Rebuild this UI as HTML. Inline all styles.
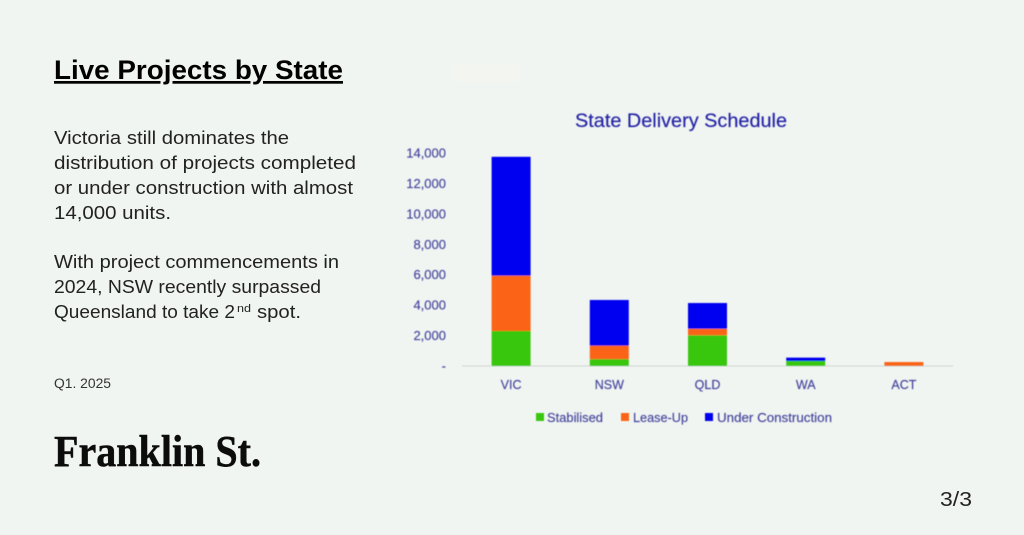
<!DOCTYPE html>
<html lang="en">
<head>
<meta charset="utf-8">
<title>Live Projects by State</title>
<style>
html,body{margin:0;padding:0;background:#f1f5f1;}
body{width:1024px;height:535px;overflow:hidden;position:relative;}
svg{position:absolute;left:0;top:0;display:block;}
.copy{font-family:"Liberation Sans",sans-serif;font-size:18px;fill:#222;}
.chart-text{font-family:"Liberation Sans",sans-serif;fill:#43439c;stroke:#43439c;stroke-width:0.15px;}
</style>
</head>
<body>
<svg id="slide" width="1024" height="535" viewBox="0 0 1024 535" xmlns="http://www.w3.org/2000/svg">
  <defs><filter id="soft" x="-5%" y="-5%" width="110%" height="110%"><feGaussianBlur stdDeviation="0.4"/></filter></defs>
  <rect x="452" y="64" width="68" height="18" fill="#f3f6f0"/>

  <text x="54" y="79" font-family="'Liberation Sans',sans-serif" font-size="27" font-weight="700" fill="#000" text-decoration="underline" textLength="289" lengthAdjust="spacingAndGlyphs">Live Projects by State</text>

  <g>
    <text class="copy" x="54" y="144" textLength="235" lengthAdjust="spacingAndGlyphs">Victoria still dominates the</text>
    <text class="copy" x="54" y="169" textLength="302" lengthAdjust="spacingAndGlyphs">distribution of projects completed</text>
    <text class="copy" x="54" y="194" textLength="299" lengthAdjust="spacingAndGlyphs">or under construction with almost</text>
    <text class="copy" x="54" y="219" textLength="117" lengthAdjust="spacingAndGlyphs">14,000 units.</text>
    <text class="copy" x="54" y="268" textLength="285" lengthAdjust="spacingAndGlyphs">With project commencements in</text>
    <text class="copy" x="54" y="293" textLength="267" lengthAdjust="spacingAndGlyphs">2024, NSW recently surpassed</text>
    <text class="copy" x="54" y="318" textLength="181" lengthAdjust="spacingAndGlyphs">Queensland to take 2</text>
    <text class="copy" x="237" y="312" style="font-size:11px" textLength="14" lengthAdjust="spacingAndGlyphs">nd</text>
    <text class="copy" x="257" y="318" textLength="44" lengthAdjust="spacingAndGlyphs">spot.</text>
  </g>

  <text x="54" y="388" font-family="'Liberation Sans',sans-serif" font-size="13.5" fill="#333" textLength="57" lengthAdjust="spacingAndGlyphs">Q1. 2025</text>
  <text x="54" y="466" font-family="'Liberation Serif',serif" font-size="44" font-weight="700" fill="#0c0c0c" stroke="#0c0c0c" stroke-width="0.5" textLength="207" lengthAdjust="spacingAndGlyphs">Franklin St.</text>
  <text x="940" y="506" font-family="'Liberation Sans',sans-serif" font-size="20" fill="#222" textLength="32" lengthAdjust="spacingAndGlyphs">3/3</text>

  <g id="chart" filter="url(#soft)">
    <text class="chart-text" x="575" y="127" font-size="19" style="fill:#2222a4;stroke:#2222a4" textLength="212" lengthAdjust="spacingAndGlyphs">State Delivery Schedule</text>
  </g>
</svg>
<script>
const categories = ['VIC', 'NSW', 'QLD', 'WA', 'ACT'];
const stabilised = [2300, 450, 2020, 330, 15];
const leaseUp = [3640, 890, 430, 0, 245];
const underConstruction = [7810, 3000, 1690, 220, 0];
const tickValues = [0, 2000, 4000, 6000, 8000, 10000, 12000, 14000];
const tickLabels = ['-', '2,000', '4,000', '6,000', '8,000', '10,000', '12,000', '14,000'];
const seriesNames = ['Stabilised', 'Lease-Up', 'Under Construction'];
const seriesColors = ['#39c70f', '#fb6415', '#0000f0'];

const NS = 'http://www.w3.org/2000/svg';
const chart = document.getElementById('chart');
const plotLeft = 462, plotRight = 953, plotBase = 366, pxPerUnit = 213 / 14000, barWidth = 39;
const yScale = v => plotBase - v * pxPerUnit;
const xCenter = i => plotLeft + (plotRight - plotLeft) * (i + 0.5) / categories.length;

function svgEl(tag, attrs, text) {
  const el = document.createElementNS(NS, tag);
  for (const k in attrs) el.setAttribute(k, attrs[k]);
  if (text !== undefined) el.textContent = text;
  chart.appendChild(el);
  return el;
}

tickValues.forEach((v, i) => {
  const el = svgEl('text', {x: 446, y: yScale(v) + 4.5, 'text-anchor': 'end', 'font-size': 13, class: 'chart-text'}, tickLabels[i]);
  
  
});

const axis = svgEl('line', {x1: plotLeft, x2: plotRight, y1: plotBase, y2: plotBase, stroke: '#d0d4d0', 'stroke-width': 1});



const stacks = [stabilised, leaseUp, underConstruction];
categories.forEach((c, i) => {
  let base = 0;
  stacks.forEach((series, s) => {
    const v = series[i];
    if (v > 0) {
      const bar = svgEl('rect', {x: xCenter(i) - barWidth / 2, y: yScale(base + v), width: barWidth, height: v * pxPerUnit, fill: seriesColors[s]});
      
      
    }
    base += v;
  });
  const label = svgEl('text', {x: xCenter(i), y: 389, 'text-anchor': 'middle', 'font-size': 12.5, class: 'chart-text'}, c);
  
  
});

const legendSwatchX = [536, 621, 705];
const legendTextX = [547, 633, 717];
const legendWidths = [56, 55, 115];
seriesNames.forEach((name, i) => {
  const sw = svgEl('rect', {x: legendSwatchX[i], y: 413, width: 8, height: 8, fill: seriesColors[i]});
  
  
  const t = svgEl('text', {x: legendTextX[i], y: 422, 'font-size': 13, class: 'chart-text', textLength: legendWidths[i], lengthAdjust: 'spacingAndGlyphs'}, name);
  
  
});
</script>
</body>
</html>
